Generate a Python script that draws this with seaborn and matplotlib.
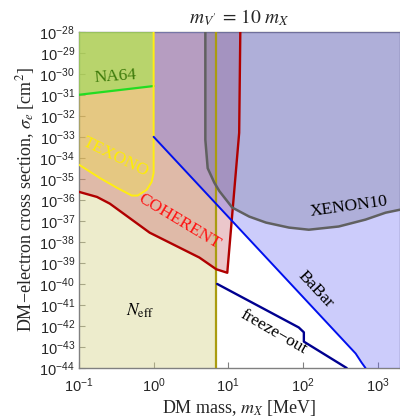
import numpy as np
import pandas as pd
import matplotlib
matplotlib.use("Agg")
import matplotlib.pyplot as plt
import seaborn as sns

# limits of the plot
x_min, x_max = 0.1, 2000.0
y_min, y_max = 1e-44, 1e-28

# Neff bound (vertical)
neff_mass = 6.9

# NA64 line
na64_x = [0.1, 1.0]
na64_y = [1.0e-31, 2.6e-31]

# TEXONO boundary
texono_x = [0.1, 0.19, 0.32, 0.51, 0.61, 0.81, 0.94, 1.0, 1.0]
texono_y = [4.7e-35, 1.1e-35, 3.8e-36, 1.6e-36, 1.6e-36, 3.0e-36, 7.2e-36, 1.9e-35, 1e-28]

# COHERENT boundary
coherent_x = [0.1, 0.174, 0.259, 0.885, 4.1, 6.9, 9.7, 14.0, 14.5]
coherent_y = [2.4e-36, 1.38e-36, 6.6e-37, 2.75e-38, 1.8e-39, 5.0e-40, 3.4e-40, 1.55e-33, 1e-28]

# BaBar boundary
babar_x = [1.0, 509.0, 612.0, 690.0]
babar_y = [1.0e-33, 4.9e-44, 1.8e-44, 1.0e-44]

# XENON10 boundary
xenon_x = [4.93, 4.93, 5.3, 6.5, 7.6, 11.3, 19.1, 32.0, 65.0, 120.0, 302.0, 690.0, 1280.0, 2000.0]
xenon_y = [1e-28, 7.2e-34, 3.2e-35, 6.6e-36, 2.6e-36, 4.3e-37, 1.6e-37, 8.3e-38,
           4.8e-38, 3.8e-38, 5.4e-38, 1.15e-37, 2.45e-37, 3.4e-37]

# freeze-out line
freeze_x = [7.1, 88.0, 103.0, 103.0, 386.0]
freeze_y = [1.0e-40, 8.5e-43, 5.0e-43, 1.8e-43, 1.0e-44]

sns.set_style("ticks")
plt.rcParams['mathtext.fontset'] = 'custom'
plt.rcParams['mathtext.rm'] = 'Liberation Sans'
plt.rcParams['mathtext.it'] = 'Liberation Sans:italic'
serif = ['Liberation Serif', 'DejaVu Serif']
plt.rcParams['font.family'] = serif

fig = plt.figure(figsize=(4.0, 4.19), dpi=100)
ax = fig.add_axes([0.1975, 0.1217, 0.8025, 0.8026])
ax.set_xscale('log')
ax.set_yscale('log')
ax.set_xlim(x_min, x_max)
ax.set_ylim(y_min, y_max)

# filled regions
ax.fill([x_min, neff_mass, neff_mass, x_min], [y_min, y_min, y_max, y_max],
        color='#d9d78e', alpha=0.45, lw=0, zorder=1)
ax.fill(coherent_x + [x_min], coherent_y + [y_max],
        color='#c04855', alpha=0.30, lw=0, zorder=2)
ax.fill(texono_x + [x_min], texono_y + [y_max],
        color='#f1e33b', alpha=0.35, lw=0, zorder=3)
ax.fill(na64_x + [1.0, x_min], na64_y + [y_max, y_max],
        color='#8ce158', alpha=0.50, lw=0, zorder=4)
ax.fill(babar_x + [x_max, x_max, 1.0], babar_y + [y_min, y_max, y_max],
        color='#6464f5', alpha=0.33, lw=0, zorder=5)
ax.fill(xenon_x + [x_max], xenon_y + [y_max],
        color='#646482', alpha=0.28, lw=0, zorder=6)

# boundary lines
def draw(xs, ys, color, lw):
    sns.lineplot(x=xs, y=ys, sort=False, estimator=None, color=color,
                 lw=lw, ax=ax, zorder=8)

draw([neff_mass, neff_mass], [y_min, y_max], '#aa9c10', 1.6)
draw(na64_x, na64_y, '#22dd22', 1.6)
draw(texono_x, texono_y, '#ffee11', 1.4)
draw(coherent_x, coherent_y, '#b00000', 1.7)
draw(babar_x, babar_y, '#0010ee', 1.4)
draw(xenon_x, xenon_y, '#606060', 1.8)
draw(freeze_x, freeze_y, '#000090', 1.7)

# region labels
lab = dict(fontsize=12.5, ha='center', va='center', zorder=9, math_fontfamily='stix')
ax.text(0.31, 7e-31, 'NA64', color='#3d7a0a', rotation=4, **lab)
ax.text(0.31, 1.1e-34, 'TEXONO', color='#ffee00', rotation=-26, **lab)
ax.text(2.2, 9e-38, 'COHERENT', color='#ff1010', rotation=-31, **lab)
ax.text(410, 4.8e-37, 'XENON10', color='black', rotation=8, **lab)
ax.text(149, 5.5e-41, 'BaBar', color='black', rotation=-47, **lab)
ax.text(40, 4.9e-43, 'freeze\u2212out', color='black', rotation=-30, **lab)
ax.text(0.65, 5.5e-42, r'$N_{\rm eff}$', color='black', **lab)

ax.set_title(r"$m_{V'}\,=\,10\;m_X$", fontsize=14, math_fontfamily='stix', pad=6)
ax.set_xlabel(r'DM mass, $m_X$ [MeV]', fontsize=13, math_fontfamily='stix', labelpad=2)
ax.set_ylabel('DM\u2212electron cross section, $\\sigma_e$ [cm$^2$]', fontsize=13,
              math_fontfamily='stix', labelpad=2)

ax.set_xticks([0.1, 1, 10, 100, 1000])
ax.set_xticklabels([r'$10^{%d}$' % e for e in range(-1, 4)])
ax.set_yticks([10.0 ** e for e in range(-44, -27)])
ax.set_yticklabels([r'$10^{%d}$' % e for e in range(-44, -27)])
ax.minorticks_off()
for t in ax.get_xticklabels() + ax.get_yticklabels():
    t.set_fontsize(10.5)
ax.tick_params(direction='in', length=4, width=0.8, color='#808080', pad=3)
ax.tick_params(axis='x', pad=6)

for s in ax.spines.values():
    s.set_color('#808080')
    s.set_linewidth(1.0)

fig.savefig('out.png', dpi=100)
